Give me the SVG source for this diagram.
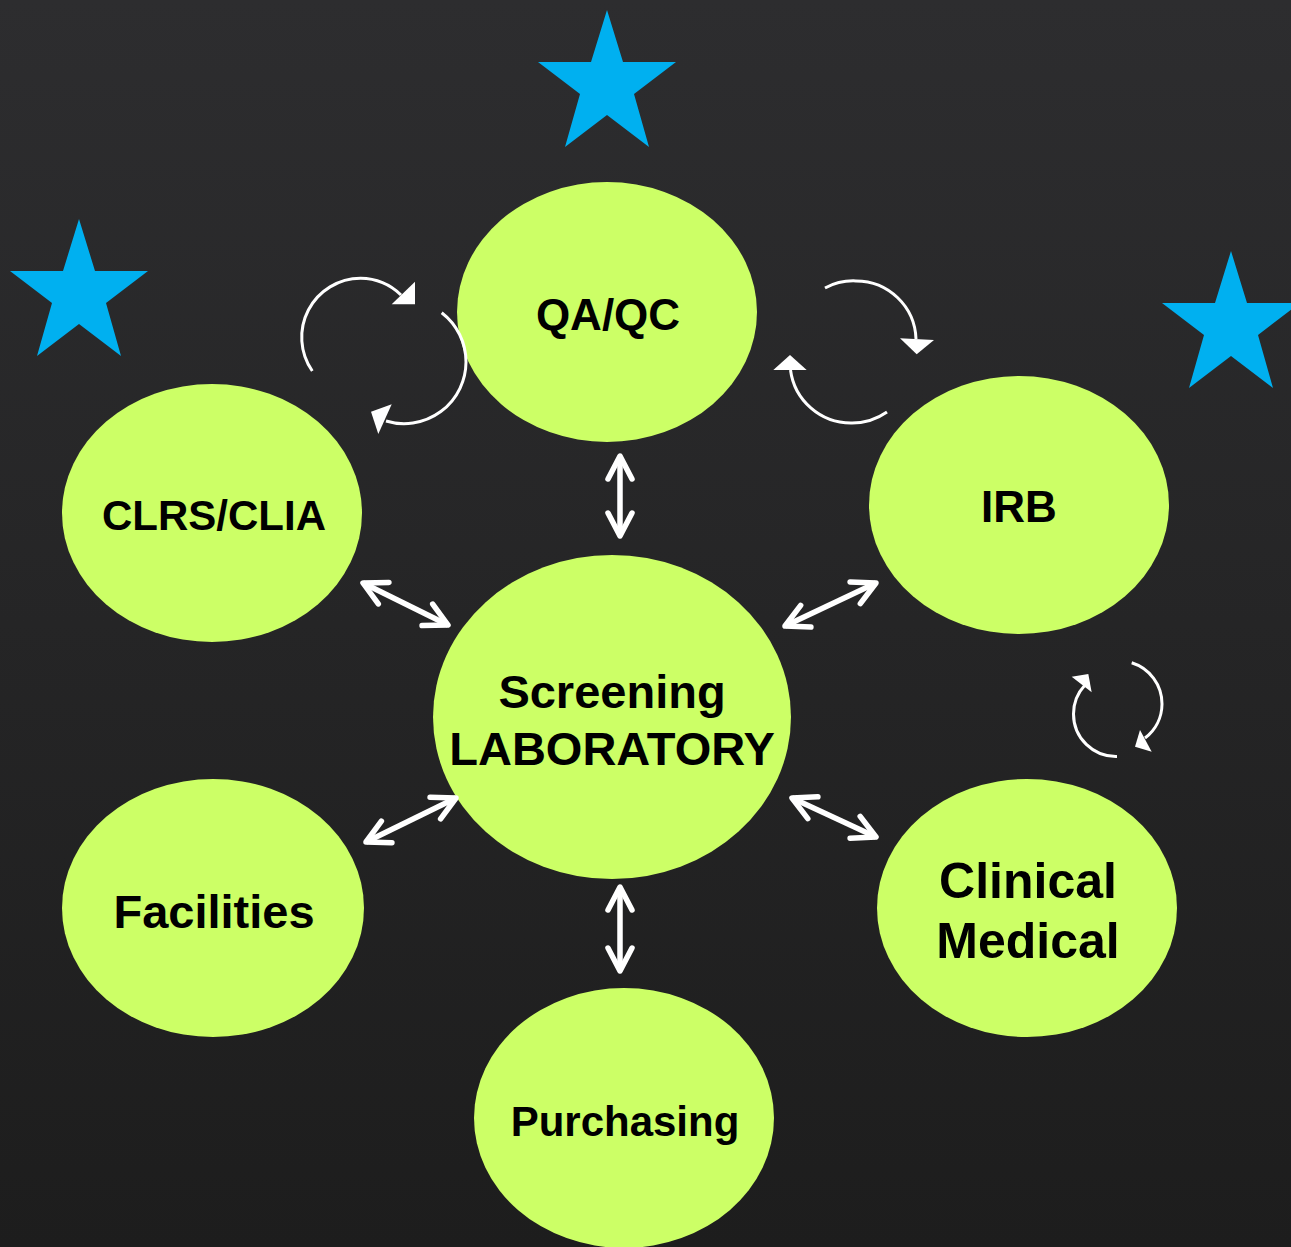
<svg xmlns="http://www.w3.org/2000/svg" width="1291" height="1247" viewBox="0 0 1291 1247">
<defs>
<linearGradient id="bg" x1="0" y1="0" x2="0" y2="1">
<stop offset="0" stop-color="#2d2d2f"/>
<stop offset="1" stop-color="#1d1d1d"/>
</linearGradient>
<marker id="chev" markerUnits="userSpaceOnUse" viewBox="-30 -16 34 32" refX="0" refY="0" markerWidth="34" markerHeight="32" orient="auto-start-reverse">
<path d="M-23,-12 L0,0 L-23,12" fill="none" stroke="#ffffff" stroke-width="5.5" stroke-linecap="round" stroke-linejoin="round"/>
</marker>
<polygon id="star" points="0,0 16,52 69,52 27,84 42,137 0,105 -42,137 -27,84 -69,52 -16,52"/>
</defs>
<style>
.node{fill:#ccff66}
.lbl{font-family:"Liberation Sans",Arial,sans-serif;font-weight:bold;fill:#000000;text-anchor:middle}
.dbl{stroke:#ffffff;stroke-width:5.5;fill:none;marker-start:url(#chev);marker-end:url(#chev)}
.arc{stroke:#ffffff;stroke-width:3;fill:none}
.head{fill:#ffffff}
.star{fill:#00b0f0}
</style>
<rect x="0" y="0" width="1291" height="1247" fill="url(#bg)"/>

<g id="stars">
<use href="#star" class="star" transform="translate(607,10)"/>
<use href="#star" class="star" transform="translate(79,219)"/>
<use href="#star" class="star" transform="translate(1231,251)"/>
</g>

<g id="node-qaqc"><ellipse class="node" cx="607" cy="312" rx="150" ry="130"/><text class="lbl" x="608" y="330" font-size="44">QA/QC</text></g>
<g id="node-clrs"><ellipse class="node" cx="212" cy="513" rx="150" ry="129"/><text class="lbl" x="214" y="530" font-size="42">CLRS/CLIA</text></g>
<g id="node-irb"><ellipse class="node" cx="1019" cy="505" rx="150" ry="129"/><text class="lbl" x="1019" y="522" font-size="44">IRB</text></g>
<g id="node-screening"><ellipse class="node" cx="612" cy="717" rx="179" ry="162"/><text class="lbl" x="612" y="708" font-size="47">Screening</text><text class="lbl" x="612" y="765" font-size="47">LABORATORY</text></g>
<g id="node-facilities"><ellipse class="node" cx="213" cy="908" rx="151" ry="129"/><text class="lbl" x="214" y="928" font-size="47">Facilities</text></g>
<g id="node-clinical"><ellipse class="node" cx="1027" cy="908" rx="150" ry="129"/><text class="lbl" x="1028" y="898" font-size="50">Clinical</text><text class="lbl" x="1028" y="958" font-size="50">Medical</text></g>
<g id="node-purchasing"><ellipse class="node" cx="624" cy="1118" rx="150" ry="130"/><text class="lbl" x="625" y="1136" font-size="42">Purchasing</text></g>

<g id="connectors">
<line class="dbl" x1="620" y1="456" x2="620" y2="536"/>
<line class="dbl" x1="363" y1="583" x2="448" y2="625"/>
<line class="dbl" x1="876" y1="583" x2="785" y2="626"/>
<line class="dbl" x1="366" y1="842" x2="456" y2="798"/>
<line class="dbl" x1="792" y1="798" x2="876" y2="837"/>
<line class="dbl" x1="620" y1="887" x2="620" y2="971"/>

<path class="arc" d="M312.3,371 A59,59 0 0 1 360.6,278.3 A59,59 0 0 1 401,295"/>
<polygon class="head" points="391.7,304.3 415,281.7 415,304.3"/>
<path class="arc" d="M441.7,312.7 A62,62 0 0 1 466,362 A62,62 0 0 1 386,421"/>
<polygon class="head" points="371,411.7 391.7,404.3 378.3,434"/>

<path class="arc" d="M825,288 A60,60 0 0 1 855.8,280.9 A60,60 0 0 1 916,339"/>
<polygon class="head" points="900,338.3 934,340 916.7,354.3"/>
<path class="arc" d="M887,412 A61,61 0 0 1 851,423 A61,61 0 0 1 790.5,370"/>
<polygon class="head" points="773.3,370 806.7,370 790,355"/>

<path class="arc" d="M1131.7,662.8 A43,43 0 0 1 1162,704 A43,43 0 0 1 1145,738"/>
<polygon class="head" points="1140,730 1151.7,751.7 1135,746.7"/>
<path class="arc" d="M1117,756.5 A42.5,42.5 0 0 1 1073.5,714 A42.5,42.5 0 0 1 1085,685"/>
<polygon class="head" points="1071.7,676.7 1088.3,674 1091.7,692.3"/>
</g>
</svg>
